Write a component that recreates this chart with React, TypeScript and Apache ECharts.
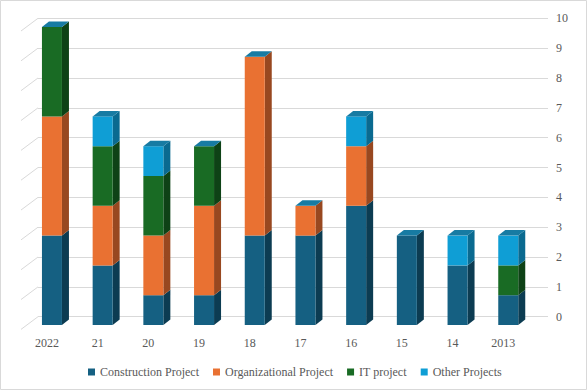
import React, { useEffect, useRef } from "react";
import * as echarts from "echarts";

const categories = ["2022", "21", "20", "19", "18", "17", "16", "15", "14", "2013"];
const construction = [3, 2, 1, 1, 3, 3, 4, 3, 2, 1];
const organizational = [4, 2, 2, 3, 6, 1, 2, 0, 0, 0];
const itProject = [3, 2, 2, 2, 0, 0, 0, 0, 0, 1];
const otherProjects = [0, 1, 1, 0, 0, 0, 1, 0, 1, 1];
const yTicks = [0, 1, 2, 3, 4, 5, 6, 7, 8, 9, 10];

const seriesDefs = [
  { name: "Construction Project", values: construction, color: "#156082", side: "#0c3c52" },
  { name: "Organizational Project", values: organizational, color: "#E97132", side: "#984820" },
  { name: "IT project", values: itProject, color: "#196B24", side: "#0e4216" },
  { name: "Other Projects", values: otherProjects, color: "#0F9ED5", side: "#0a6a90" },
];
const TOP_COLOR = "#177ba3";
const FONT = "serif";

export default function App() {
  const ref = useRef<HTMLDivElement>(null);
  useEffect(() => {
    if (!ref.current) return;
    const chart = echarts.init(ref.current, undefined, { renderer: "svg" });
    const totals = categories.map((_, i) =>
      seriesDefs.reduce((acc, s) => acc + s.values[i], 0)
    );
    const cum = categories.map(() => 0);
    const DX = 7, DY = 5.5, W = 20;
    const barSeries = seriesDefs.map((s) => {
      const data: number[][] = [];
      s.values.forEach((v, i) => {
        const start = cum[i];
        const end = start + v;
        cum[i] = end;
        if (v > 0) data.push([i, start, end, end === totals[i] ? 1 : 0]);
      });
      return {
        type: "custom",
        name: s.name,
        xAxisIndex: 0,
        yAxisIndex: 0,
        itemStyle: { color: s.color },
        encode: { x: 0, y: [1, 2] },
        data,
        renderItem: (params: any, api: any) => {
          const ci = api.value(0);
          const st = api.value(1);
          const en = api.value(2);
          const isTop = api.value(3);
          const p0 = api.coord([ci, st]);
          const p1 = api.coord([ci, en]);
          const x0 = p0[0] - 5;
          const x1 = x0 + W;
          const yb = p0[1];
          const yt = p1[1];
          const children: any[] = [
            {
              type: "polygon",
              shape: { points: [[x1, yb], [x1, yt], [x1 + DX, yt - DY], [x1 + DX, yb - DY]] },
              style: { fill: s.side },
            },
            {
              type: "rect",
              shape: { x: x0, y: yt, width: W, height: yb - yt },
              style: { fill: s.color },
            },
          ];
          if (isTop) {
            children.push({
              type: "polygon",
              shape: { points: [[x0, yt], [x1, yt], [x1 + DX, yt - DY], [x0 + DX, yt - DY]] },
              style: { fill: TOP_COLOR },
            });
          }
          return { type: "group", children };
        },
        z: 3,
      };
    });

    chart.setOption({
      animation: false,
      backgroundColor: "#ffffff",
      textStyle: { fontFamily: FONT },
      graphic: [
        {
          type: "rect",
          shape: { x: 0.5, y: 0.5, width: 586, height: 389 },
          style: { fill: "none", stroke: "#d9d9d9", lineWidth: 1 },
          silent: true,
        },
      ],
      legend: {
        top: 361,
        left: 83,
        icon: "rect",
        itemWidth: 7,
        itemHeight: 7,
        itemGap: 14,
        textStyle: { fontFamily: FONT, fontSize: 12, color: "#595959" },
        data: seriesDefs.map((s) => s.name),
      },
      grid: [
        { left: 21.6, width: 507, top: 27, height: 298 },
        { left: 38, right: 39, top: 18.3, bottom: 73.3 },
      ],
      xAxis: [
        {
          type: "category",
          gridIndex: 0,
          data: categories,
          axisLine: { show: false },
          axisTick: { show: false },
          axisLabel: { fontFamily: FONT, fontSize: 12, color: "#595959", margin: 12 },
        },
        { type: "value", gridIndex: 1, min: 0, max: 1, show: false },
      ],
      yAxis: [
        { type: "value", gridIndex: 0, min: 0, max: 10, interval: 1, show: false },
        {
          type: "value",
          gridIndex: 1,
          position: "right",
          min: 0,
          max: 10,
          interval: 1,
          axisLine: { show: false },
          axisTick: { show: false },
          splitLine: { lineStyle: { color: "#d9d9d9", width: 1 } },
          axisLabel: { fontFamily: FONT, fontSize: 12, color: "#595959", margin: 8 },
        },
      ],
      series: [
        {
          type: "custom",
          xAxisIndex: 1,
          yAxisIndex: 1,
          silent: true,
          data: yTicks.map((t) => [0, t]),
          renderItem: (params: any, api: any) => {
            const p = api.coord([0, api.value(1)]);
            return {
              type: "line",
              shape: { x1: p[0] - 17, y1: p[1] + 12.7, x2: p[0], y2: p[1] },
              style: { stroke: "#d9d9d9", lineWidth: 1 },
            };
          },
          z: 1,
        },
        ...barSeries,
      ],
    });
    return () => chart.dispose();
  }, []);
  return (
    <div
      ref={ref}
      style={{ position: "fixed", left: 0, top: 0, width: 587, height: 390 }}
    />
  );
}
